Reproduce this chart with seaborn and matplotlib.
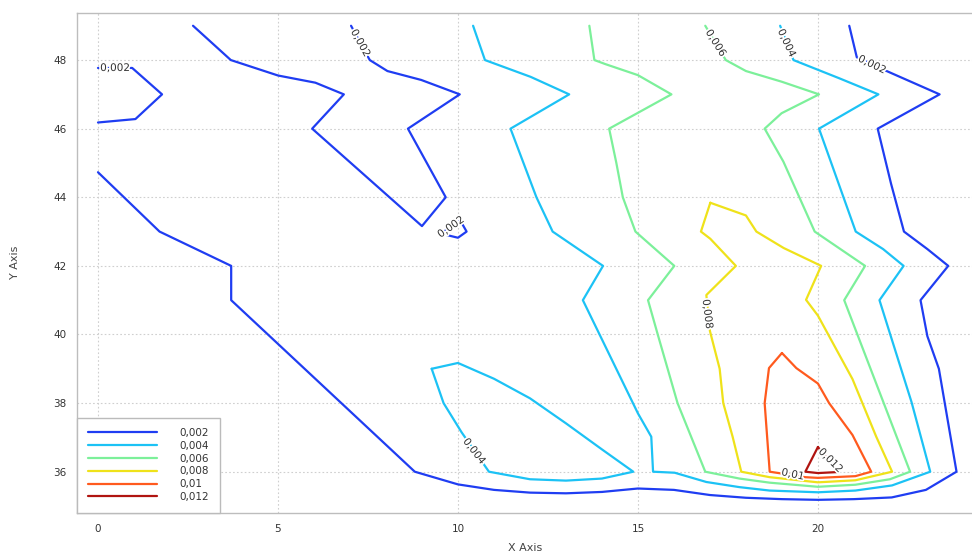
import matplotlib
matplotlib.use("Agg")
import matplotlib.pyplot as plt
import matplotlib.patheffects as pe
import pandas as pd
import seaborn as sns

# Contour levels and their display names
levels = ["0,002", "0,004", "0,006", "0,008", "0,01", "0,012"]
level_colors = ["#1f3df2", "#1cc2f5", "#7cf09a", "#efe21a", "#ff5a1e", "#b01410"]

# Level 0,002 pieces
c002_a_x = [0.0, 0.95, 1.78, 1.04, 0.0]
c002_a_y = [47.77, 47.77, 47.0, 46.28, 46.18]
c002_b_x = [2.64, 3.69, 5.0, 6.04, 6.83, 5.95, 9.0, 9.66, 8.61, 10.05, 8.98, 8.04, 7.55, 7.03]
c002_b_y = [49.0, 48.0, 47.55, 47.34, 47.0, 46.0, 43.16, 44.0, 46.0, 47.0, 47.42, 47.68, 48.0, 49.0]
c002_c_x = [9.53, 10.06, 10.24, 10.0, 9.53]
c002_c_y = [42.94, 43.33, 43.0, 42.82, 42.94]
c002_d_x = [0.0, 1.71, 3.70, 3.70, 8.8, 10.0, 11.0, 12.0, 13.0, 14.0, 15.0, 16.0, 17.0, 18.0,
            19.0, 20.0, 21.0, 22.05, 23.0, 23.85, 23.36, 23.04, 22.85, 23.62, 23.04, 22.39,
            22.03, 21.66, 23.38, 21.93, 21.08, 20.87]
c002_d_y = [44.73, 43.0, 42.0, 41.0, 36.0, 35.63, 35.47, 35.39, 35.37, 35.41, 35.51, 35.47, 35.32, 35.24,
            35.2, 35.18, 35.2, 35.25, 35.47, 36.0, 39.0, 39.95, 41.0, 42.0, 42.49, 43.0,
            44.4, 46.0, 47.0, 47.67, 48.08, 49.0]

# Level 0,004 pieces
c004_a_x = [10.42, 10.75, 12.02, 13.09, 11.46, 12.18, 12.63, 14.03, 13.47, 15.0, 15.37, 15.42,
            16.02, 16.9, 17.82, 18.66, 20.0, 21.04, 22.06, 23.12, 22.6, 22.0, 21.71, 22.38,
            21.81, 21.05, 20.03, 21.68, 20.59, 19.32, 18.95]
c004_a_y = [49.0, 48.0, 47.51, 47.0, 46.0, 44.0, 43.0, 42.0, 41.0, 37.7, 37.02, 36.0,
            35.97, 35.7, 35.55, 35.45, 35.4, 35.45, 35.6, 36.0, 38.03, 40.03, 41.0, 42.0,
            42.49, 43.0, 46.0, 47.0, 47.47, 48.0, 49.0]
c004_b_x = [9.27, 10.0, 11.0, 12.0, 13.0, 14.0, 14.87, 14.0, 13.0, 12.0, 10.86, 10.1, 9.6, 9.27]
c004_b_y = [39.0, 39.17, 38.71, 38.14, 37.41, 36.65, 36.0, 35.8, 35.74, 35.78, 36.0, 37.15, 38.0, 39.0]

# Level 0,006
c006_x = [13.65, 13.79, 14.1, 15.0, 15.93, 14.2, 14.4, 14.58, 14.93, 16.01, 15.28, 15.55, 16.1,
          16.87, 17.82, 18.66, 20.0, 21.04, 22.0, 22.56, 20.73, 21.31, 19.91, 19.04, 18.52,
          18.99, 20.03, 18.99, 18.0, 17.44, 16.87]
c006_y = [49.0, 48.0, 47.88, 47.56, 47.0, 46.0, 45.0, 44.0, 43.0, 42.0, 41.0, 40.0, 38.0,
          36.0, 35.8, 35.68, 35.56, 35.62, 35.78, 36.0, 41.0, 42.0, 43.0, 45.04, 46.0,
          46.45, 47.0, 47.37, 47.68, 48.0, 49.0]

# Level 0,008
c008_x = [17.01, 16.75, 17.01, 17.72, 16.9, 17.0, 17.27, 17.37, 17.63, 17.87, 18.66, 20.0,
          21.04, 22.06, 21.62, 20.96, 20.0, 19.67, 20.09, 19.05, 18.29, 18.0, 17.01]
c008_y = [43.84, 43.0, 42.79, 42.0, 41.15, 40.1, 39.0, 38.0, 37.02, 36.0, 35.84, 35.69,
          35.75, 36.0, 37.02, 38.7, 40.55, 41.01, 42.0, 42.52, 43.0, 43.47, 43.84]

# Level 0,01
c010_x = [19.0, 18.64, 18.52, 18.66, 19.65, 20.0, 21.04, 21.48, 20.96, 20.31, 20.0, 19.4, 19.0]
c010_y = [39.46, 39.02, 38.0, 36.0, 35.84, 35.82, 35.87, 36.0, 37.07, 38.0, 38.57, 39.02, 39.46]

# Level 0,012
c012_x = [20.0, 19.65, 20.0, 20.55, 20.0]
c012_y = [36.72, 36.0, 35.96, 35.99, 36.72]

pieces = [
    ("0,002", "a", c002_a_x, c002_a_y),
    ("0,002", "b", c002_b_x, c002_b_y),
    ("0,002", "c", c002_c_x, c002_c_y),
    ("0,002", "d", c002_d_x, c002_d_y),
    ("0,004", "a", c004_a_x, c004_a_y),
    ("0,004", "b", c004_b_x, c004_b_y),
    ("0,006", "a", c006_x, c006_y),
    ("0,008", "a", c008_x, c008_y),
    ("0,01", "a", c010_x, c010_y),
    ("0,012", "a", c012_x, c012_y),
]

frames = []
for lvl, tag, xs, ys in pieces:
    frames.append(pd.DataFrame({"x": xs, "y": ys, "level": lvl, "piece": f"{lvl}-{tag}",
                                "order": range(len(xs))}))
df = pd.concat(frames, ignore_index=True)

sns.set_style("white")
plt.rcParams["font.family"] = ["DejaVu Sans"]

fig = plt.figure(figsize=(9.72, 5.53), dpi=100)
ax = fig.add_axes([0.0797, 0.0732, 0.9203, 0.9038])

sns.lineplot(data=df, x="x", y="y", hue="level", hue_order=levels,
             palette=dict(zip(levels, level_colors)), units="piece",
             estimator=None, sort=False, linewidth=1.6, ax=ax)

ax.set_xlim(-0.57, 24.28)
ax.set_ylim(34.81, 49.38)
ax.set_xticks([0, 5, 10, 15, 20])
ax.set_yticks([36, 38, 40, 42, 44, 46, 48])
ax.grid(True, linestyle=(0, (1.5, 2.0)), color="#cfcfcf", linewidth=0.8)
ax.set_axisbelow(True)
ax.tick_params(direction="out", length=4, width=0.8, color="#aaaaaa",
               labelcolor="#333333", labelsize=7.5, pad=4)
for side in ["left", "bottom", "top"]:
    ax.spines[side].set_color("#bdbdbd")
    ax.spines[side].set_linewidth(1.0)
ax.spines["right"].set_visible(False)

ax.set_xlabel("X Axis", fontsize=8, color="#444444")
ax.set_ylabel("Y Axis", fontsize=8, color="#444444")
ax.xaxis.set_label_coords(0.5, -0.06)
ax.yaxis.set_label_coords(-0.064, 0.5)

# Inline contour value labels
contour_labels = [
    ("0,002", 0.47, 47.77, 0),
    ("0,002", 7.29, 48.5, -61),
    ("0,002", 9.8, 43.13, 35),
    ("0,002", 21.5, 47.87, -26),
    ("0,004", 10.45, 36.6, -52),
    ("0,004", 19.13, 48.5, -65),
    ("0,006", 17.16, 48.5, -58),
    ("0,008", 16.93, 40.6, -83),
    ("0,01", 19.3, 35.92, -12),
    ("0,012", 20.35, 36.33, -45),
]
for s, lx, ly, rot in contour_labels:
    ax.text(lx, ly, s, rotation=rot, rotation_mode="anchor", ha="center", va="center",
            fontsize=7.5, color="#333333",
            path_effects=[pe.withStroke(linewidth=2.5, foreground="white")])

handles, labels = ax.get_legend_handles_labels()
leg = ax.legend(handles, labels, loc="lower left", bbox_to_anchor=(0, 0), borderaxespad=0,
                frameon=True, fancybox=False, edgecolor="#bbbbbb", framealpha=1,
                handlelength=6.6, handletextpad=2.2, labelspacing=0.27, fontsize=7.5,
                borderpad=1.0)
leg.get_frame().set_linewidth(1.0)
for t in leg.get_texts():
    t.set_color("#333333")

fig.savefig("out.png", dpi=100)
